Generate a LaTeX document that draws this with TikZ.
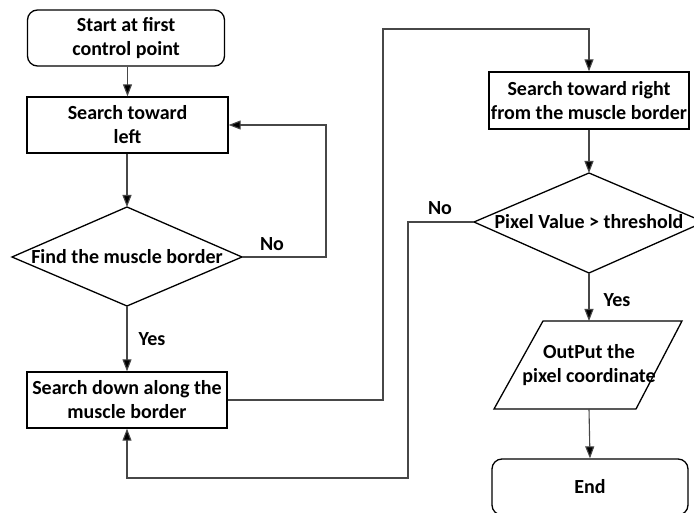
\documentclass[tikz,border=0pt]{standalone}
\usepackage{fontspec}
\setmainfont{Carlito}
\usetikzlibrary{arrows.meta,calc}
\begin{document}
\begin{tikzpicture}[x=1pt,y=-1pt,
  every node/.style={font=\fontsize{20}{24}\selectfont\bfseries, align=center, inner sep=0pt},
  boxshape/.style={draw=black, line width=1.3pt, minimum width=200pt, minimum height=56pt},
  roundbox/.style={boxshape, rounded corners=10pt},
  outline/.style={draw=black, line width=1.3pt},
  conn/.style={draw=black!72, line width=1.1pt},
  arr/.style={conn, -{Triangle[length=12pt,width=9pt,fill=black]}},
  lbl/.style={font=\fontsize{20}{24}\selectfont\bfseries}]
\useasboundingbox (0,0) rectangle (694,513);
\clip (0,0) rectangle (694,513);
\fill[white] (0,0) rectangle (694,513);

% nodes
\node[roundbox, minimum width=197pt] (start) at (126,38) {Start at first\\control point};
\node[boxshape, minimum width=201pt] (left) at (127.5,125) {Search toward\\left};
\node (d1) at (127,257) {Find the muscle border};
\coordinate (d1n) at (127,207);
\coordinate (d1s) at (127,306);
\coordinate (d1w) at (12,257);
\coordinate (d1e) at (242,257);
\draw[outline] (d1n) -- (d1e) -- (d1s) -- (d1w) -- cycle;
\node[boxshape] (down) at (127,400) {Search down along the\\muscle border};

\node[boxshape, minimum height=57pt] (right) at (589,100.5) {Search toward right\\from the muscle border};
\node (d2) at (589,222) {Pixel Value > threshold};
\coordinate (d2n) at (589,173);
\coordinate (d2s) at (589,273);
\coordinate (d2w) at (474,222);
\coordinate (d2e) at (704,222);
\draw[outline] (d2n) -- (d2e) -- (d2s) -- (d2w) -- cycle;

\node (out) at (589,365) {OutPut the\\pixel coordinate};
\draw[outline] (543,321) -- (682,321) -- (636,409) -- (494,409) -- cycle;
\coordinate (outn) at (589,321);
\coordinate (outs) at (589,409);

\node[roundbox, minimum width=196pt] (end) at (590,487) {End};

% connectors
\draw[arr] (start.south -| left.north) -- (left.north);
\draw[arr] (left.south -| d1n) -- (d1n);
\draw[arr] (d1e) -- (326,257) -- (326,125) -- (left.east);
\draw[arr] (d1s) -- (down.north -| d1s);
\draw[arr] (down.east) -- (383,400) -- (383,29) -- (589,29) -- (right.north);
\draw[arr] (right.south) -- (d2n);
\draw[arr] (d2w) -- (408,222) -- (408,478) -- (127,478) -- (down.south);
\draw[arr] (d2s) -- (outn);
\draw[arr] (outs) -- (end.north);

% labels
\node[lbl] at (272,244) {No};
\node[lbl] at (152,339) {Yes};
\node[lbl] at (440,208) {No};
\node[lbl] at (617,300) {Yes};
\end{tikzpicture}
\end{document}
